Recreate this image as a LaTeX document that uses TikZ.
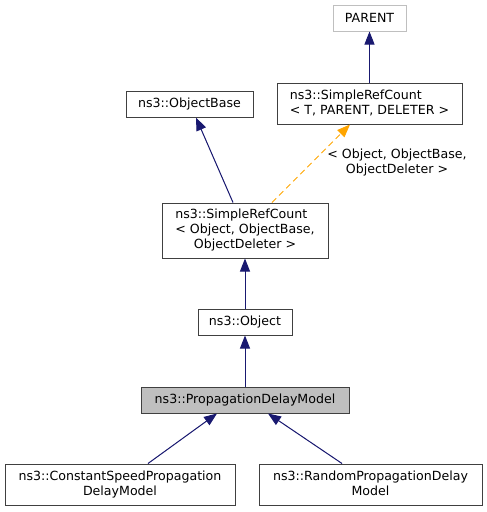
\documentclass[tikz,border=0pt]{standalone}
\usepackage{fontspec}
\setmainfont{DejaVu Sans}
\usetikzlibrary{arrows.meta,calc}
\definecolor{boxline}{HTML}{404040}
\definecolor{parentline}{HTML}{BFBFBF}
\definecolor{edgeblue}{HTML}{191970}
\definecolor{edgeorange}{HTML}{FFA500}
\definecolor{curfill}{HTML}{BFBFBF}
\newcommand{\twoline}[2]{\begin{tabular}{@{}l@{}}#1\\\multicolumn{1}{@{}c@{}}{#2}\end{tabular}}
\newcommand{\threeline}[3]{\begin{tabular}{@{}l@{}}#1\\#2\\\multicolumn{1}{@{}c@{}}{#3}\end{tabular}}
\tikzset{
  classbox/.style={draw=boxline, line width=1pt, fill=white, inner sep=0pt, anchor=center,
    font=\fontsize{12.6}{15}\selectfont},
  inherit/.style={draw=edgeblue, line width=1pt, -{Triangle[length=13pt,width=10pt]}, fill=edgeblue},
  templ/.style={draw=edgeorange, line width=1pt, dashed, dash pattern=on 6pt off 4pt,
    -{Triangle[length=13pt,width=10pt,fill=edgeorange]}},
  elabel/.style={font=\fontsize{12.6}{15}\selectfont, align=center, inner sep=0pt}
}
\begin{document}
\begin{tikzpicture}[x=1pt,y=-1pt]
\useasboundingbox (0,0) rectangle (487,512);
\node[classbox, draw=parentline, minimum width=73pt, minimum height=26pt] (parent) at (369.5,18) {PARENT};
\node[classbox, minimum width=185pt, minimum height=41pt] (srct) at (369.5,103.5)
  {\twoline{ns3::SimpleRefCount}{< T, PARENT, DELETER >}};
\node[classbox, minimum width=127pt, minimum height=26pt] (objbase) at (189.5,104) {ns3::ObjectBase};
\node[classbox, minimum width=166pt, minimum height=55pt] (srco) at (245,230.5)
  {\threeline{ns3::SimpleRefCount}{< Object, ObjectBase,}{ObjectDeleter >}};
\node[classbox, minimum width=94pt, minimum height=26pt] (object) at (245,322) {ns3::Object};
\node[classbox, fill=curfill, minimum width=208pt, minimum height=26pt] (pdm) at (245,400) {ns3::PropagationDelayModel};
\node[classbox, minimum width=230pt, minimum height=41pt] (csp) at (120,484.5)
  {\twoline{ns3::ConstantSpeedPropagation}{DelayModel}};
\node[classbox, minimum width=223pt, minimum height=41pt] (rpd) at (370.5,484.5)
  {\twoline{ns3::RandomPropagationDelay}{Model}};

\draw[inherit] (srct.north) -- (parent.south);
\draw[inherit] ($(srco.north)+(-12,0)$) -- ($(objbase.south)+(6.5,0)$);
\draw[templ] ($(srco.north)+(27,0)$) -- ($(srct.south)+(-19.5,0)$);
\node[elabel] (lbl) at (397,163) {< Object, ObjectBase,\\ObjectDeleter >};
\draw[inherit] (object.north) -- (srco.south);
\draw[inherit] (pdm.north) -- (object.south);
\draw[inherit] ($(csp.north)+(28,0)$) -- ($(pdm.south)+(-28,0)$);
\draw[inherit] ($(rpd.north)+(-28.5,0)$) -- ($(pdm.south)+(23,0)$);
\end{tikzpicture}
\end{document}
